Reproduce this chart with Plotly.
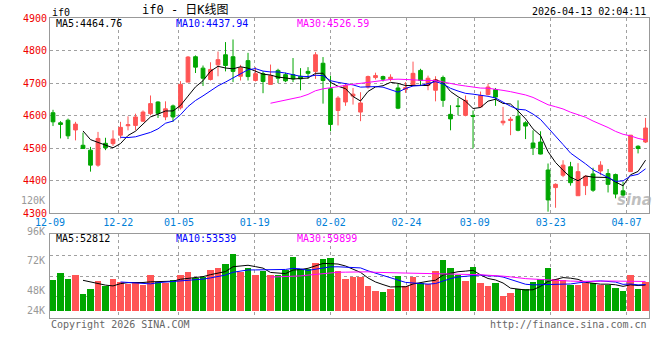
import plotly.graph_objects as go
import pandas as pd

# ---------------- data ----------------
dates = [
    "2025-12-09", "2025-12-10", "2025-12-11", "2025-12-12", "2025-12-15", "2025-12-16", "2025-12-17",
    "2025-12-18", "2025-12-19", "2025-12-22", "2025-12-23", "2025-12-24", "2025-12-25", "2025-12-26",
    "2025-12-29", "2025-12-30", "2025-12-31",
    "2026-01-05", "2026-01-06", "2026-01-07", "2026-01-08", "2026-01-09", "2026-01-12", "2026-01-13",
    "2026-01-14", "2026-01-15", "2026-01-16", "2026-01-19", "2026-01-20", "2026-01-21", "2026-01-22",
    "2026-01-23", "2026-01-26", "2026-01-27", "2026-01-28", "2026-01-29", "2026-01-30",
    "2026-02-02", "2026-02-03", "2026-02-04", "2026-02-05", "2026-02-06", "2026-02-09", "2026-02-10",
    "2026-02-11", "2026-02-12", "2026-02-13", "2026-02-24", "2026-02-25", "2026-02-26", "2026-02-27",
    "2026-03-02", "2026-03-03", "2026-03-04", "2026-03-05", "2026-03-06", "2026-03-09", "2026-03-10",
    "2026-03-11", "2026-03-12", "2026-03-13", "2026-03-16", "2026-03-17", "2026-03-18", "2026-03-19",
    "2026-03-20", "2026-03-23", "2026-03-24", "2026-03-25", "2026-03-26", "2026-03-27", "2026-03-30",
    "2026-03-31", "2026-04-01", "2026-04-02", "2026-04-03", "2026-04-07", "2026-04-08", "2026-04-09",
    "2026-04-10",
]

opens = [4609, 4578, 4586, 4556, 4509, 4494, 4448, 4515, 4514, 4540,
         4569, 4570, 4583, 4606, 4642, 4596, 4630, 4624, 4703, 4781,
         4746, 4711, 4756, 4787, 4781, 4721, 4769, 4708, 4729, 4696,
         4739, 4726, 4726, 4721, 4736, 4736, 4761, 4683, 4616, 4642,
         4660, 4611, 4688, 4717, 4720, 4713, 4685, 4681, 4693, 4739,
         4693, 4678, 4717, 4604, 4630, 4601, 4600, 4627, 4665, 4680,
         4578, 4585, 4598, 4578, 4516, 4519, 4433, 4379, 4417, 4443,
         4354, 4385, 4421, 4430, 4422, 4419, 4369, 4428, 4506, 4519]
highs = [4618, 4583, 4591, 4581, 4548, 4504, 4550, 4532, 4555, 4581,
         4598, 4606, 4616, 4662, 4644, 4644, 4634, 4706, 4783, 4785,
         4754, 4764, 4797, 4826, 4834, 4756, 4793, 4749, 4736, 4757,
         4744, 4732, 4777, 4746, 4749, 4795, 4780, 4723, 4660, 4698,
         4685, 4672, 4723, 4732, 4723, 4727, 4698, 4703, 4766, 4744,
         4723, 4721, 4723, 4632, 4654, 4662, 4616, 4674, 4698, 4685,
         4627, 4596, 4647, 4583, 4555, 4552, 4453, 4392, 4463, 4458,
         4454, 4417, 4440, 4460, 4436, 4422, 4397, 4540, 4509, 4593]
lows = [4568, 4530, 4528, 4524, 4499, 4428, 4443, 4494, 4507, 4530,
        4555, 4555, 4581, 4601, 4593, 4586, 4581, 4619, 4703, 4731,
        4691, 4708, 4721, 4736, 4703, 4708, 4708, 4705, 4669, 4696,
        4700, 4703, 4703, 4678, 4713, 4713, 4637, 4552, 4570, 4630,
        4634, 4583, 4683, 4711, 4705, 4706, 4620, 4670, 4691, 4691,
        4678, 4644, 4627, 4555, 4601, 4598, 4499, 4624, 4662, 4630,
        4570, 4540, 4552, 4528, 4479, 4481, 4305, 4317, 4411, 4385,
        4354, 4356, 4366, 4417, 4364, 4346, 4348, 4428, 4484, 4516]
closes = [4581, 4573, 4538, 4574, 4499, 4448, 4530, 4501, 4528, 4564,
          4572, 4596, 4611, 4637, 4607, 4621, 4596, 4696, 4780, 4749,
          4715, 4742, 4772, 4754, 4736, 4747, 4720, 4729, 4705, 4723,
          4715, 4707, 4713, 4713, 4730, 4787, 4708, 4573, 4654, 4693,
          4666, 4639, 4720, 4723, 4712, 4718, 4623, 4686, 4730, 4708,
          4715, 4711, 4647, 4590, 4628, 4647, 4598, 4662, 4688, 4657,
          4583, 4589, 4555, 4568, 4501, 4482, 4341, 4389, 4448, 4394,
          4428, 4414, 4371, 4448, 4389, 4359, 4356, 4540, 4499, 4562]
volumes = [62800, 75600, 64800, 72900, 34400, 44600, 60800, 49300, 64800, 57400,
           54700, 58700, 52700, 71600, 58700, 56000, 62800, 72200, 79000, 66200,
           67500, 83000, 87100, 95200, 115400, 78300, 87100, 72900, 80300, 71600,
           71600, 81700, 109400, 85100, 84400, 97200, 105300, 107300, 81000, 64800,
           68900, 68900, 50600, 40500, 38500, 44600, 70900, 50600, 68900, 56000,
           54700, 81000, 103300, 87100, 71600, 60800, 89100, 56700, 50600, 56700,
           30400, 36500, 44600, 44600, 58700, 64800, 87100, 64800, 62800, 52700,
           52700, 56700, 56700, 52700, 52700, 46600, 40500, 72900, 44600, 58700]

tick_labels = ["12-09", "12-22", "01-05", "01-19", "02-02", "02-24", "03-09", "03-23", "04-07"]
price_ticks = [4300, 4400, 4500, 4600, 4700, 4800, 4900]
vol_tick_labels = ["96K", "72K", "48K", "24K"]

title_text = "if0 - 日K线图"
symbol_text = "if0"
time_text = "2026-04-13 02:04:11"
ma_price_texts = ["MA5:4464.76", "MA10:4437.94", "MA30:4526.59"]
ma_vol_texts = ["MA5:52812", "MA10:53539", "MA30:59899"]
copyright_text = "Copyright 2026 SINA.COM"
url_text = "http://finance.sina.com.cn"

# ---------------- derived ----------------
n = len(dates)
xs = list(range(n))
s_close = pd.Series(closes)
s_vol = pd.Series(volumes)
ma_periods = [5, 10, 30]
ma_colors = ["#000000", "#0000FF", "#FF00FF"]

RED = "#FF5555"
GREEN = "#00A600"
vol_colors = [RED if c >= o else GREEN for o, c in zip(opens, closes)]

x_lo, x_hi = -0.4, n - 0.5
label_idx = [[d[5:] for d in dates].index(t) for t in tick_labels]
grid_x = [x_lo + k * (x_hi - x_lo) / (n - 1) for k in label_idx]

vol_range = [-13600, 155300]
vol_grid = [vol_range[0] + (vol_range[1] - vol_range[0]) * q for q in (0.25, 0.5, 0.75)]

FONT = "DejaVu Sans Mono, Noto Sans CJK SC, monospace"
W, H = 660, 360

fig = go.Figure()

fig.add_trace(go.Candlestick(
    x=xs, open=opens, high=highs, low=lows, close=closes,
    increasing=dict(line=dict(color=RED, width=1), fillcolor=RED),
    decreasing=dict(line=dict(color=GREEN, width=1), fillcolor=GREEN),
    whiskerwidth=0, xaxis="x", yaxis="y", showlegend=False, hoverinfo="skip",
))
for p, col in zip(ma_periods, ma_colors):
    fig.add_trace(go.Scatter(x=xs, y=s_close.rolling(p).mean(), mode="lines",
                             line=dict(color=col, width=1), xaxis="x", yaxis="y",
                             showlegend=False, hoverinfo="skip"))

fig.add_trace(go.Bar(x=xs, y=volumes, marker=dict(color=vol_colors, line=dict(width=0)),
                     width=0.82, xaxis="x2", yaxis="y2", showlegend=False, hoverinfo="skip"))
for p, col in zip(ma_periods, ma_colors):
    fig.add_trace(go.Scatter(x=xs, y=s_vol.rolling(p).mean(), mode="lines",
                             line=dict(color=col, width=1), xaxis="x2", yaxis="y2",
                             showlegend=False, hoverinfo="skip"))


def py(px):
    return 1 - px / H


def px_x(px):
    return px / W


main_dom = [py(213.3), py(18)]
vol_dom = [py(317.7), py(234.3)]
xdom = [px_x(50), px_x(649.3)]

axis_common = dict(showline=True, mirror=True, linecolor="#999999", linewidth=1,
                   zeroline=False, gridcolor="#A0A0A0", griddash="dot", gridwidth=1,
                   automargin=False)

fig.update_layout(
    width=W, height=H, margin=dict(l=0, r=0, t=0, b=0, autoexpand=False),
    paper_bgcolor="white", plot_bgcolor="white",
    font=dict(family=FONT, size=10, color="#000"),
    boxgap=0.28,
    bargap=0,
    xaxis=dict(domain=xdom, range=[x_lo, x_hi], anchor="y", tickmode="array",
               tickvals=grid_x, ticktext=tick_labels, ticks="", showgrid=True,
               tickfont=dict(color="#0080D8", size=10, family=FONT),
               rangeslider=dict(visible=False), **axis_common),
    yaxis=dict(domain=main_dom, range=[4300, 4900], anchor="x", tickmode="array",
               tickvals=price_ticks, ticktext=[str(v) for v in price_ticks], ticks="",
               tickfont=dict(color="#F00000", size=10, family=FONT), showgrid=True,
               **axis_common),
    xaxis2=dict(domain=xdom, range=[x_lo, x_hi], anchor="y2", matches="x", tickmode="array",
                tickvals=grid_x, showticklabels=False, ticks="", showgrid=True, **axis_common),
    yaxis2=dict(domain=vol_dom, range=vol_range, anchor="x2", tickmode="array",
                tickvals=vol_grid, showticklabels=False, ticks="", showgrid=True, **axis_common),
)

ann = []


def add_text(text, x, y, color="#000", anchor="left", size=10, **kw):
    ann.append(dict(text=text, x=px_x(x), y=py(y), xref="paper", yref="paper",
                    xanchor=anchor, yanchor="middle", showarrow=False,
                    font=dict(family=FONT, size=size, color=color), **kw))


add_text(symbol_text, 50, 12.5)
add_text(title_text, 140, 9.5, size=12)
add_text(time_text, 648, 11.5, anchor="right")
for t, col, x in zip(ma_price_texts, ma_colors, [54, 174, 295]):
    add_text(t, x, 24, color=col)
for t, col, x in zip(ma_vol_texts, ma_colors, [54, 174, 295]):
    add_text(t, x, 238.5, color=col)
for t, y in zip(vol_tick_labels, [231.5, 260.7, 290, 310]):
    add_text(t, 46.5, y, color="#999999", anchor="right")
add_text("120K", 46.5, 200, color="#999999", anchor="right")
add_text(copyright_text, 49, 324, color="#666666")
add_text(url_text, 649, 324, color="#666666", anchor="right")
ann.append(dict(text="<b><i>sina</i></b>", x=px_x(634), y=py(200), xref="paper", yref="paper",
                xanchor="center", yanchor="middle", showarrow=False,
                font=dict(family="DejaVu Sans", size=15, color="rgba(170,170,170,0.75)")))
fig.update_layout(annotations=ann)

fig.write_html("out.html", config={"displayModeBar": False},
               post_script="document.body.style.margin='0px';document.body.style.overflow='hidden';")
